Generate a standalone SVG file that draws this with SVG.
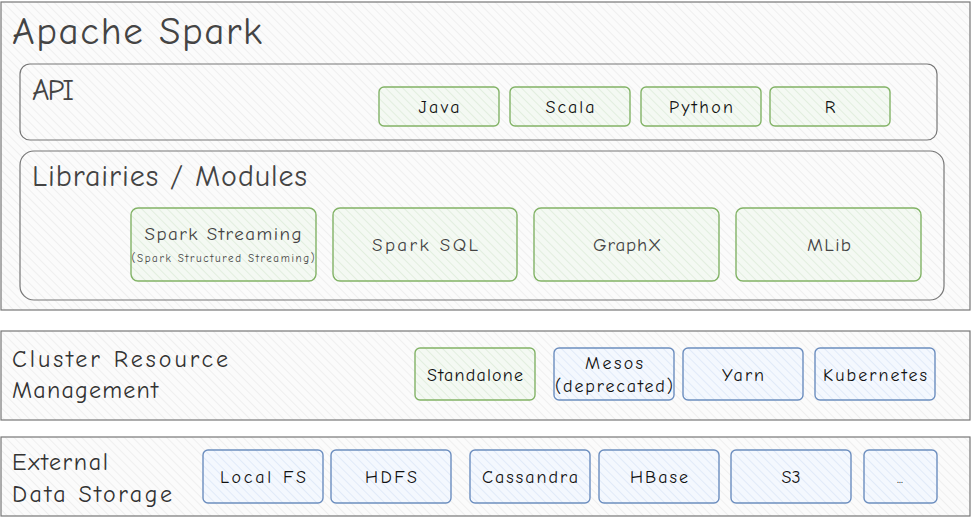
<svg xmlns="http://www.w3.org/2000/svg" width="971" height="518" viewBox="0 0 971 518">
<defs>
<pattern id="hg" patternUnits="userSpaceOnUse" width="6" height="6" patternTransform="rotate(-45)"><rect width="6" height="6" fill="#fbfbfb"/><line x1="0" y1="0" x2="0" y2="6" stroke="#ececec" stroke-width="1.5"/></pattern>
<pattern id="hgr" patternUnits="userSpaceOnUse" width="6" height="6" patternTransform="rotate(-45)"><rect width="6" height="6" fill="#f4f9f3"/><line x1="0" y1="0" x2="0" y2="6" stroke="#dcebd9" stroke-width="1.5"/></pattern>
<pattern id="hbl" patternUnits="userSpaceOnUse" width="6" height="6" patternTransform="rotate(-45)"><rect width="6" height="6" fill="#f4f8fe"/><line x1="0" y1="0" x2="0" y2="6" stroke="#dbe6f6" stroke-width="1.5"/></pattern>
</defs>
<style>
.cont{fill:url(#hg);stroke:#777;stroke-width:1.2}
.g{fill:url(#hgr);stroke:#82b366;stroke-width:1.4}
.b{fill:url(#hbl);stroke:#6c8ebf;stroke-width:1.4}
text{font-family:"Comic Neue","Noto Sans","Liberation Sans",sans-serif}
.t1{font-size:39px;fill:#444}
.t2{font-size:30px;fill:#444}
.t3{font-size:24px;fill:#333}
.n{font-size:18px;fill:#111;text-anchor:middle}
.m{font-size:19px;fill:#444;text-anchor:middle}
.s{font-size:11px;fill:#444;text-anchor:middle}
.e{font-size:13px;fill:#111;text-anchor:middle}
</style>
<g id="spark">
<rect class="cont" x="1" y="2" width="969" height="308"/>
<text class="t1" x="12" y="44" textLength="250" lengthAdjust="spacing">Apache Spark</text>
</g>
<g id="api">
<rect class="cont" x="20" y="64" width="917" height="76" rx="10"/>
<text class="t2" x="32" y="100" textLength="42" lengthAdjust="spacing">API</text>
</g>
<g id="java"><rect class="g" x="379" y="87" width="120" height="39" rx="5"/><text class="n" x="439" y="113" textLength="41" lengthAdjust="spacing">Java</text></g>
<g id="scala"><rect class="g" x="510" y="87" width="120" height="39" rx="5"/><text class="n" x="570" y="113" textLength="49" lengthAdjust="spacing">Scala</text></g>
<g id="python"><rect class="g" x="641" y="87" width="120" height="39" rx="5"/><text class="n" x="701" y="113" textLength="64" lengthAdjust="spacing">Python</text></g>
<g id="r"><rect class="g" x="770" y="87" width="120" height="39" rx="5"/><text class="n" x="830" y="113">R</text></g>
<g id="libs">
<rect class="cont" x="20" y="151" width="924" height="149" rx="14"/>
<text class="t2" x="32" y="186" textLength="275" lengthAdjust="spacing">Librairies / Modules</text>
</g>
<g id="streaming"><rect class="g" x="131" y="208" width="185" height="73" rx="7"/><text class="m" x="223" y="240" textLength="157" lengthAdjust="spacing">Spark Streaming</text><text class="s" x="223" y="262" textLength="183" lengthAdjust="spacing">(Spark Structured Streaming)</text></g>
<g id="sql"><rect class="g" x="333" y="208" width="184" height="73" rx="7"/><text class="m" x="425" y="251" textLength="106" lengthAdjust="spacing">Spark SQL</text></g>
<g id="graphx"><rect class="g" x="534" y="208" width="185" height="73" rx="7"/><text class="m" x="627" y="251" textLength="68" lengthAdjust="spacing">GraphX</text></g>
<g id="mlib"><rect class="g" x="736" y="208" width="185" height="73" rx="7"/><text class="m" x="829" y="251" textLength="44" lengthAdjust="spacing">MLib</text></g>
<g id="cluster">
<rect class="cont" x="1" y="331" width="969" height="89"/>
<text class="t3" x="12" y="367" textLength="216" lengthAdjust="spacing">Cluster Resource</text>
<text class="t3" x="12" y="398" textLength="146" lengthAdjust="spacing">Management</text>
</g>
<g id="standalone"><rect class="g" x="415" y="348" width="120" height="52" rx="5"/><text class="n" x="475" y="381" textLength="96" lengthAdjust="spacing">Standalone</text></g>
<g id="mesos"><rect class="b" x="554" y="348" width="120" height="52" rx="5"/><text class="n" x="614" y="369" textLength="58" lengthAdjust="spacing">Mesos</text><text class="n" x="614" y="392" textLength="118" lengthAdjust="spacing">(deprecated)</text></g>
<g id="yarn"><rect class="b" x="683" y="348" width="120" height="52" rx="5"/><text class="n" x="743" y="381" textLength="42" lengthAdjust="spacing">Yarn</text></g>
<g id="kubernetes"><rect class="b" x="815" y="348" width="120" height="52" rx="5"/><text class="n" x="875" y="381" textLength="104" lengthAdjust="spacing">Kubernetes</text></g>
<g id="storage">
<rect class="cont" x="1" y="437" width="969" height="79"/>
<text class="t3" x="12" y="470" textLength="96" lengthAdjust="spacing">External</text>
<text class="t3" x="12" y="502" textLength="160" lengthAdjust="spacing">Data Storage</text>
</g>
<g id="localfs"><rect class="b" x="203" y="450" width="120" height="53" rx="5"/><text class="n" x="263" y="483" textLength="86" lengthAdjust="spacing">Local FS</text></g>
<g id="hdfs"><rect class="b" x="331" y="450" width="120" height="53" rx="5"/><text class="n" x="391" y="483" textLength="52" lengthAdjust="spacing">HDFS</text></g>
<g id="cassandra"><rect class="b" x="470" y="450" width="120" height="53" rx="5"/><text class="n" x="530" y="483" textLength="96" lengthAdjust="spacing">Cassandra</text></g>
<g id="hbase"><rect class="b" x="599" y="450" width="120" height="53" rx="5"/><text class="n" x="659" y="483" textLength="58" lengthAdjust="spacing">HBase</text></g>
<g id="s3"><rect class="b" x="731" y="450" width="120" height="53" rx="5"/><text class="n" x="791" y="483">S3</text></g>
<g id="more"><rect class="b" x="864" y="450" width="73" height="53" rx="5"/><text class="e" x="900" y="483">...</text></g>
<g id="connectors"/>
</svg>
